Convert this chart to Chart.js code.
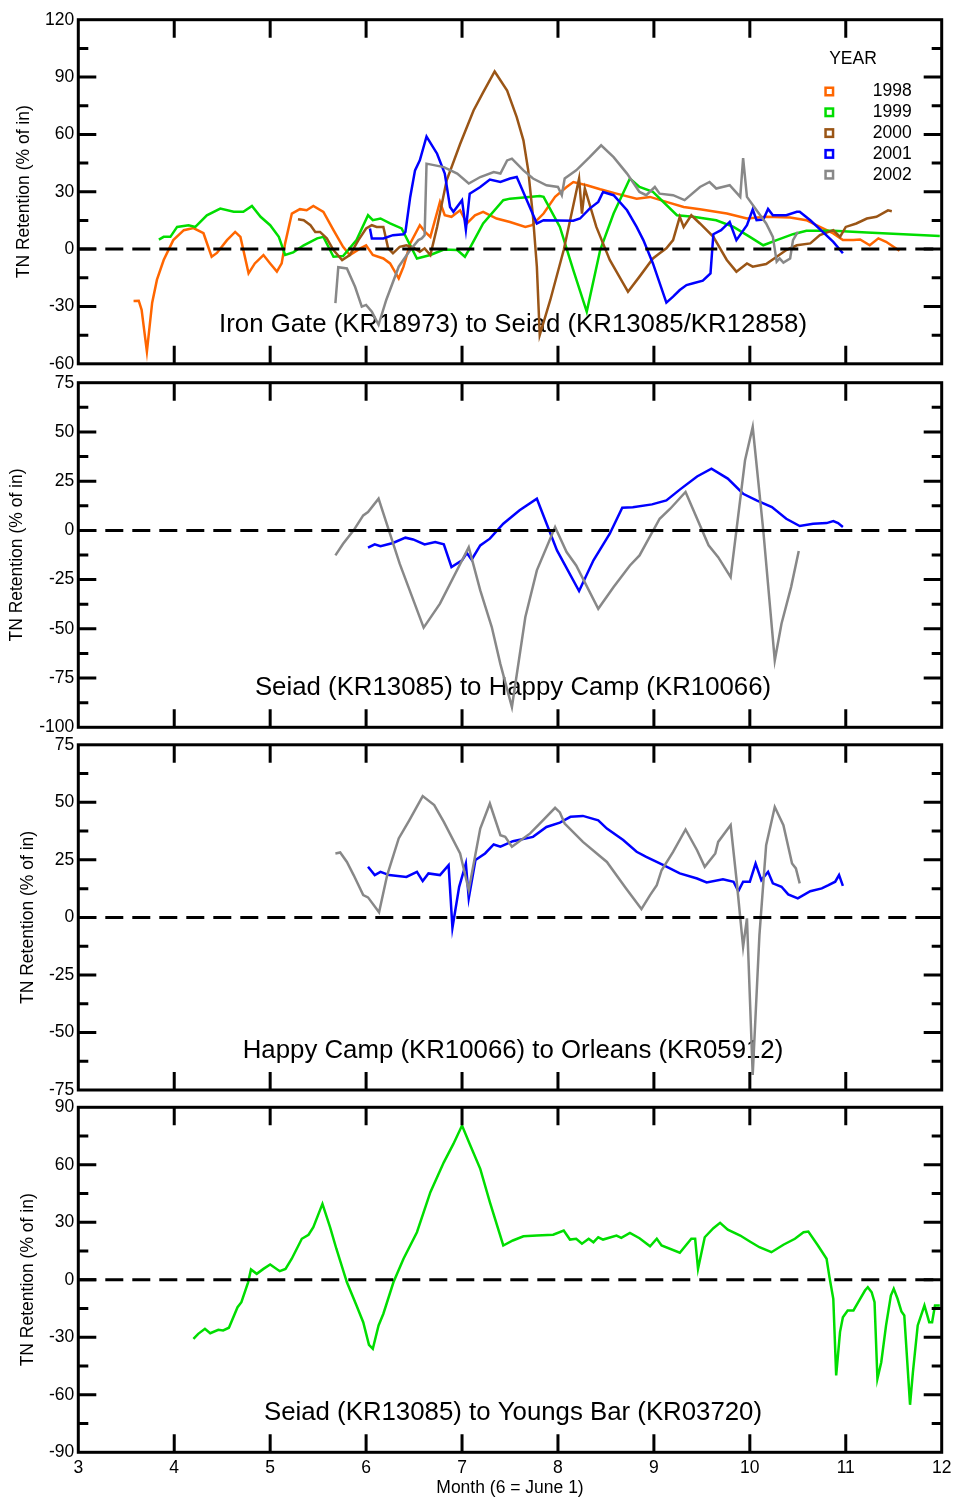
<!DOCTYPE html>
<html>
<head>
<meta charset="utf-8">
<title>TN Retention</title>
<script src="https://cdn.jsdelivr.net/npm/chart.js@4.4.1/dist/chart.umd.min.js"></script>
<style>
  html, body { margin: 0; padding: 0; background: #fff; }
  #wrap { position: relative; width: 953px; height: 1501px; }
  #wrap canvas { position: absolute; left: 0; top: 0; }
</style>
</head>
<body>
<div id="wrap">
  <canvas id="p1" width="953" height="1501"></canvas>
  <canvas id="p2" width="953" height="1501"></canvas>
  <canvas id="p3" width="953" height="1501"></canvas>
  <canvas id="p4" width="953" height="1501"></canvas>
</div>
<script>
// x is month of year (6 = June 1), y is TN retention in % of inflow

// Iron Gate (KR18973) to Seiad (KR13085/KR12858)
const igs1998Month = [3.576,3.63,3.66,3.715,3.77,3.82,3.89,3.99,4.10,4.20,4.305,4.39,4.445,4.55,4.635,4.69,4.775,4.84,4.93,5.0,5.07,5.12,5.156,5.226,5.31,5.38,5.45,5.555,5.66,5.76,5.83,5.94,6.0,6.07,6.18,6.25,6.34,6.39,6.46,6.56,6.615,6.67,6.77,6.82,6.89,6.98,7.05,7.135,7.22,7.36,7.5,7.66,7.73,7.85,7.97,8.09,8.16,8.30,8.44,8.61,8.82,8.96,9.13,9.31,9.48,9.76,9.97,10.17,10.42,10.59,10.73,10.87,10.97,11.08,11.15,11.25,11.34,11.42,11.56];
const igs1998Ret = [-27.1,-27,-31.8,-53.6,-28,-16,-5.7,4.7,9.9,11,8.3,-4,-2,4.7,9,6.4,-12.7,-7.5,-3.1,-7.5,-11.8,-7.5,3,18.6,20.9,20.3,22.6,19.5,9.9,1.2,-3.1,0.4,2,-3.1,-4.9,-7.5,-15.3,-9.2,3,12.5,9,6.4,24.7,17.7,16.9,20.3,13.4,17.7,19.5,16,14.2,11.6,12.5,18.6,27.3,32.5,35.1,33.4,31.3,29,26.4,27.3,24.7,22,20.9,18.6,16,16.9,16.5,15.1,11.6,8.2,4.7,4.7,5,2,5.6,3.8,-0.9];

const igs1999Month = [3.84,3.89,3.96,4.03,4.15,4.22,4.34,4.48,4.62,4.72,4.81,4.90,5.0,5.09,5.156,5.24,5.35,5.49,5.555,5.66,5.76,5.90,6.02,6.07,6.15,6.25,6.37,6.53,6.67,6.81,6.95,7.03,7.08,7.22,7.43,7.5,7.81,7.85,8.02,8.16,8.30,8.44,8.58,8.75,8.85,8.99,9.24,9.41,9.65,9.83,10.0,10.14,10.28,10.45,10.59,10.87,11.22,11.98];
const igs1999Ret = [5,6.4,6.4,11.6,12.5,11.6,17.7,21.2,19.5,19.5,22.6,16.9,12.5,6.4,-3.1,-1.7,2,5.6,6.4,-4,-3.6,4.7,17.7,15.1,16,13.4,10.8,-4.9,-3.1,-0.2,-0.5,-4,0.4,13.4,25.6,26.4,27.8,27.3,11.6,-11,-32.7,-0.5,18.6,36.9,32.5,29.9,17.7,16.9,15.1,11.6,6.4,2,4.7,7.8,9.6,9.6,8.7,6.9];

const igs2000Month = [5.29,5.35,5.42,5.47,5.52,5.59,5.66,5.75,5.83,5.92,6.0,6.06,6.11,6.18,6.23,6.28,6.35,6.42,6.49,6.56,6.61,6.67,6.74,6.84,6.98,7.12,7.22,7.34,7.47,7.57,7.64,7.69,7.74,7.78,7.81,7.92,8.06,8.22,8.25,8.28,8.40,8.54,8.68,8.73,8.85,8.99,9.06,9.13,9.20,9.27,9.31,9.39,9.48,9.62,9.76,9.86,9.97,10.03,10.17,10.28,10.38,10.49,10.63,10.73,10.87,10.94,11.0,11.11,11.22,11.32,11.44,11.48];
const igs2000Ret = [15.6,15.1,12.5,9,9,5.6,-0.5,-5.7,-3.1,4.7,10.8,12.5,11.6,11.6,0.4,-2.2,1.2,2,0.9,-1.4,0.4,-3.1,11.6,36,55,72.5,82,92.9,82.9,69,56.9,41.2,16.9,-9.2,-45,-26.6,-0.5,36.9,18.6,31.7,11.6,-5.7,-17.9,-22.3,-14.4,-4.9,-2.2,0.4,4.7,16.9,11.6,17.7,13.4,6.4,-5.7,-11.8,-7.5,-9.2,-7.8,-4,-0.5,2,3,7.3,9.9,6.4,11.6,13.4,16,16.9,20.3,19.8];

const igs2001Month = [6.04,6.06,6.18,6.28,6.39,6.41,6.46,6.51,6.56,6.63,6.74,6.82,6.875,6.91,7.0,7.04,7.08,7.19,7.29,7.40,7.5,7.57,7.60,7.78,7.85,8.16,8.23,8.33,8.42,8.47,8.58,8.72,8.82,8.89,8.99,9.13,9.20,9.27,9.34,9.41,9.51,9.59,9.62,9.70,9.79,9.86,9.97,10.03,10.07,10.14,10.19,10.24,10.38,10.49,10.52,10.63,10.76,10.87,10.97];
const igs2001Ret = [10.8,5.6,5.6,7.3,7.8,9,27.3,41.2,46.4,58.9,49.9,39.5,22,19.5,25.6,10.2,29,32.5,36.4,35.1,36.9,37.7,34.3,13.4,15.1,14.8,16,21.2,24.7,29.9,28.2,20.3,11.6,4.7,-7.5,-28,-24.9,-21.4,-18.8,-17.9,-16.5,-12.7,7.8,9.9,14.2,4.7,12.5,20.7,15.1,15.5,21,17.7,17.7,19.5,19.5,15.1,9,3.8,-2.2];

const igs2002Month = [5.68,5.71,5.80,5.885,5.955,6.0,6.06,6.13,6.21,6.34,6.46,6.545,6.58,6.61,6.63,6.81,6.95,7.07,7.19,7.33,7.40,7.47,7.52,7.64,7.74,7.88,8.0,8.04,8.07,8.19,8.33,8.45,8.58,8.72,8.85,8.92,9.01,9.06,9.20,9.32,9.48,9.58,9.65,9.79,9.90,9.93,9.97,10.07,10.17,10.24,10.28,10.31,10.35,10.42,10.45,10.50];
const igs2002Ret = [-28.3,-9.5,-10.1,-19.7,-30.1,-29.2,-32.7,-39.6,-26.6,-9.2,-0.5,4.7,5.6,7.3,44.7,42.9,39.5,34.3,37.7,40.3,39.5,46.4,47.3,41.2,36.9,33.4,32.5,28.2,36.9,41.2,48.1,54.3,48.1,39.5,29.9,28.2,32.5,29,28.2,25.6,32.5,35.1,31.7,33.4,27.3,47.6,27.3,20.3,13.4,6.4,-6.6,-4.9,-7.1,-4.9,4.7,9];

// Seiad (KR13085) to Happy Camp (KR10066)
const shc2001Month = [6.02,6.09,6.15,6.28,6.41,6.49,6.61,6.72,6.81,6.89,7.0,7.05,7.10,7.19,7.29,7.43,7.60,7.78,7.99,8.22,8.37,8.54,8.67,8.78,8.98,9.13,9.27,9.45,9.60,9.77,9.93,10.07,10.23,10.38,10.52,10.66,10.80,10.87,10.92,10.97];
const shc2001Ret = [-8.8,-7.1,-8,-6.4,-3.7,-4.6,-7.1,-5.9,-7.1,-18.6,-15.2,-11.5,-14.9,-7.6,-4.2,3.4,10.2,16.1,-10.2,-30.8,-15.2,-1.7,11.5,11.8,13.2,15.2,20.7,27.4,31.3,26.3,18.6,15.2,11.8,5.9,2.2,3.4,3.7,4.7,3.7,1.7];

const shc2002Month = [5.68,5.76,5.87,5.97,6.02,6.13,6.35,6.60,6.77,7.07,7.19,7.31,7.40,7.52,7.66,7.78,7.97,8.09,8.19,8.42,8.58,8.75,8.85,9.06,9.17,9.33,9.57,9.67,9.80,9.95,10.03,10.14,10.26,10.33,10.43,10.51];
const shc2002Ret = [-12.7,-6.8,0,7.6,9.3,16.1,-16.9,-49.4,-37.2,-8.5,-30.5,-49.1,-67.9,-89.7,-44,-20.3,1.7,-11,-17.8,-39.8,-28.8,-17.8,-12.7,5.9,11,19.5,-7.6,-13.6,-23.7,35.6,52.5,0,-66,-47.4,-28.8,-10.5];

// Happy Camp (KR10066) to Orleans (KR05912)
const hco2001Month = [6.02,6.09,6.15,6.24,6.42,6.53,6.59,6.65,6.77,6.86,6.90,6.97,7.04,7.07,7.14,7.24,7.33,7.40,7.53,7.74,7.88,8.02,8.13,8.26,8.42,8.51,8.68,8.82,8.92,9.10,9.27,9.45,9.55,9.72,9.83,9.88,9.93,10.0,10.06,10.12,10.19,10.24,10.33,10.40,10.50,10.63,10.75,10.82,10.89,10.93,10.97];
const hco2001Ret = [22,18.4,19.8,18.4,17.6,19.8,15.8,19.1,18.4,22.7,-4.5,13.3,23.4,8.3,24.9,27.8,31.7,30.7,33.1,35,39.3,41.2,43.7,44.1,42.2,38.6,33.6,28.5,26.3,22.7,19.1,16.9,15.2,16.6,15.5,11.4,15.5,15.5,23.4,16.2,19.8,14.8,13.3,10,8.3,11.4,12.6,14,15.5,18.4,13.7];

const hco2002Month = [5.68,5.73,5.80,5.87,5.97,6.02,6.135,6.22,6.34,6.45,6.59,6.71,6.81,6.98,7.07,7.19,7.29,7.40,7.45,7.52,7.71,7.81,7.97,8.02,8.07,8.26,8.51,8.71,8.87,8.96,9.03,9.08,9.20,9.33,9.45,9.53,9.64,9.67,9.80,9.86,9.93,9.97,10.03,10.10,10.17,10.26,10.35,10.44,10.48,10.52];
const hco2002Ret = [27.8,28.2,24.1,18.4,9.7,8.7,2.2,18.4,34.3,42.2,52.7,48.8,41.5,27.8,11.9,38.6,49.5,35.7,35,30.7,36.5,40.8,47.6,45.6,40.8,32.8,24.1,12.6,3.6,9.7,14,20.5,28.5,38.2,29.2,22,27.8,32.8,40.1,16.9,-12.8,-0.4,-68.5,-7.7,31.4,48,40.1,23.4,21.3,14.8];

// Seiad (KR13085) to Youngs Bar (KR03720)
const syb1999Month = [4.20,4.25,4.32,4.375,4.46,4.51,4.57,4.66,4.70,4.77,4.80,4.86,4.93,5.0,5.10,5.16,5.225,5.33,5.40,5.45,5.545,5.625,5.69,5.80,5.90,5.97,6.03,6.07,6.13,6.18,6.285,6.39,6.53,6.67,6.81,6.91,7.0,7.08,7.19,7.29,7.43,7.53,7.64,7.78,7.95,8.06,8.125,8.19,8.25,8.32,8.37,8.42,8.47,8.61,8.66,8.75,8.85,8.96,9.03,9.08,9.27,9.39,9.43,9.46,9.53,9.62,9.69,9.77,9.90,10.0,10.10,10.225,10.35,10.47,10.56,10.61,10.71,10.80,10.83,10.87,10.90,10.94,10.97,11.02,11.08,11.13,11.20,11.23,11.27,11.30,11.33,11.37,11.42,11.47,11.50,11.54,11.58,11.61,11.67,11.70,11.75,11.82,11.87,11.90,11.93,11.98];
const syb1999Ret = [-30.8,-28.2,-25.6,-27.9,-26.1,-26.4,-25,-14.3,-11.7,-1.3,5.4,3.1,5.7,8,4.5,5.7,11,21.4,23.5,27.4,39.6,27.4,16.2,-1.3,-13.4,-22.1,-33.9,-36,-23.8,-17.7,-1.3,11,24.8,45.7,61.3,70.9,80.5,70.9,57.9,40.5,17.9,20.5,22.7,23.1,23.5,25.7,21,21.4,18.8,21.4,19.6,22.2,21,23.1,21.9,24.5,21.7,17.5,21.4,17.9,14.1,21.4,21.4,5.7,22.2,26.9,29.7,26.2,23.1,20,17,14.4,18.3,21.4,24.8,25.2,17.9,11,1.4,-9.9,-49.9,-27.3,-19.5,-16,-16,-11.7,-5.6,-3.9,-6.5,-11.7,-51.6,-43,-23.8,-8.2,-4.7,-9.9,-16.5,-18.6,-65.2,-48.2,-23.8,-13.4,-22.1,-22.1,-13.4,-13.4];

// axis ranges: [min, max, label step]
const monthRange = [3, 12];
const igsRange = [-60, 120, 30];
const shcRange = [-100, 75, 25];
const hcoRange = [-75, 75, 25];
const sybRange = [-90, 90, 30];

const yearColors = { 1998: '#ff6600', 1999: '#00dd00', 2000: '#9a5516', 2001: '#0000ff', 2002: '#888888' };

const FONT = "'Liberation Sans', Arial, Helvetica, sans-serif";
const W = 953, H = 1501;
const PLOT_LEFT = 78.3, PLOT_RIGHT = 941.7;

Chart.defaults.font.family = FONT;
Chart.defaults.color = '#000';

function pts(xs, ys) {
  return xs.map((x, i) => ({ x: x, y: ys[i] }));
}

// box round the plot with inward tick marks on all four sides
const frameTicks = {
  id: 'frameTicks',
  afterDatasetsDraw(chart, args, opts) {
    const { ctx, chartArea: a, scales: { x, y } } = chart;
    ctx.save();
    ctx.strokeStyle = '#000';
    ctx.lineWidth = 3;
    ctx.beginPath();
    for (let m = x.min + 1; m < x.max; m++) {
      const px = x.getPixelForValue(m);
      ctx.moveTo(px, a.top); ctx.lineTo(px, a.top + 18);
      ctx.moveTo(px, a.bottom); ctx.lineTo(px, a.bottom - 18);
    }
    const half = opts.step / 2;
    const n = Math.round((y.max - y.min) / half);
    for (let k = 1; k < n; k++) {
      const py = y.getPixelForValue(y.min + k * half);
      const len = k % 2 === 0 ? 18 : 10;
      ctx.moveTo(a.left, py); ctx.lineTo(a.left + len, py);
      ctx.moveTo(a.right, py); ctx.lineTo(a.right - len, py);
    }
    ctx.stroke();
    ctx.strokeRect(a.left, a.top, a.right - a.left, a.bottom - a.top);
    ctx.restore();
  }
};

// reach name written inside the lower part of each panel
const caption = {
  id: 'caption',
  beforeDatasetsDraw(chart, args, opts) {
    const { ctx, chartArea: a } = chart;
    ctx.save();
    ctx.font = '25.8px ' + FONT;
    ctx.fillStyle = '#000';
    ctx.textAlign = 'center';
    ctx.textBaseline = 'middle';
    ctx.fillText(opts.text, (a.left + a.right) / 2 + 3, a.bottom - 39);
    ctx.restore();
  }
};

// YEAR key with hollow squares, top panel only
const yearKey = {
  id: 'yearKey',
  afterDraw(chart, args, opts) {
    if (!opts.show) return;
    const { ctx, chartArea: a } = chart;
    ctx.save();
    ctx.font = '17.5px ' + FONT;
    ctx.fillStyle = '#000';
    ctx.textBaseline = 'middle';
    ctx.textAlign = 'center';
    ctx.fillText('YEAR', a.right - 88.7, a.top + 39.5);
    const entries = chart.data.datasets.filter(d => d.label);
    entries.forEach((d, i) => {
      const cy = a.top + 71.8 + i * 20.8;
      ctx.strokeStyle = d.borderColor;
      ctx.lineWidth = 2.5;
      ctx.strokeRect(a.right - 112.4 - 3.75, cy - 3.75, 7.5, 7.5);
      ctx.fillStyle = '#000';
      ctx.textAlign = 'right';
      ctx.fillText(d.label, a.right - 30, cy);
    });
    ctx.restore();
  }
};

function buildPanel(id, cfg) {
  const withMonths = !!cfg.monthAxis;
  const datasets = cfg.series.map(s => ({
    label: String(s.year),
    data: pts(s.month, s.ret),
    borderColor: yearColors[s.year],
    borderWidth: 2.5,
    order: 2003 - s.year
  }));
  datasets.push({
    label: '',
    data: [{ x: monthRange[0], y: 0 }, { x: monthRange[1], y: 0 }],
    borderColor: '#000',
    borderWidth: 3,
    borderDash: [18, 9],
    order: 0
  });

  return new Chart(document.getElementById(id), {
    type: 'line',
    data: { datasets },
    options: {
      responsive: false,
      animation: false,
      devicePixelRatio: 1,
      layout: {
        padding: { top: cfg.top, bottom: withMonths ? 0 : H - cfg.bottom, left: 0, right: W - PLOT_RIGHT }
      },
      elements: { point: { radius: 0 }, line: { tension: 0, fill: false } },
      scales: {
        x: {
          type: 'linear',
          min: monthRange[0],
          max: monthRange[1],
          display: withMonths,
          grid: { display: false, drawTicks: false },
          border: { display: false },
          ticks: { stepSize: 1, font: { size: 17.5 }, padding: 5, maxRotation: 0 },
          title: { display: withMonths, text: 'Month (6 = June 1)', font: { size: 17.5 }, padding: { top: 0, bottom: 2 } },
          afterFit(s) {
            s.paddingLeft = 0;
            s.paddingRight = 0;
            if (withMonths) s.height = H - cfg.bottom;
          }
        },
        y: {
          min: cfg.range[0],
          max: cfg.range[1],
          grid: { display: false, drawTicks: false },
          border: { display: false },
          ticks: { stepSize: cfg.range[2], font: { size: 17.5 }, padding: 4 },
          title: { display: true, text: 'TN Retention (% of in)', font: { size: 17.5 }, padding: { top: cfg.titlePad, bottom: 0 } },
          afterFit(s) { s.width = PLOT_LEFT; }
        }
      },
      plugins: {
        legend: { display: false },
        tooltip: { enabled: false },
        frameTicks: { step: cfg.range[2] },
        caption: { text: cfg.caption },
        yearKey: { show: !!cfg.key }
      }
    },
    plugins: [frameTicks, caption, yearKey]
  });
}

buildPanel('p1', {
  top: 19.7, bottom: 363.8, range: igsRange, titlePad: 13.5, key: true,
  caption: 'Iron Gate (KR18973) to Seiad (KR13085/KR12858)',
  series: [
    { year: 1998, month: igs1998Month, ret: igs1998Ret },
    { year: 1999, month: igs1999Month, ret: igs1999Ret },
    { year: 2000, month: igs2000Month, ret: igs2000Ret },
    { year: 2001, month: igs2001Month, ret: igs2001Ret },
    { year: 2002, month: igs2002Month, ret: igs2002Ret }
  ]
});

buildPanel('p2', {
  top: 382.7, bottom: 727.3, range: shcRange, titlePad: 7,
  caption: 'Seiad (KR13085) to Happy Camp (KR10066)',
  series: [
    { year: 2001, month: shc2001Month, ret: shc2001Ret },
    { year: 2002, month: shc2002Month, ret: shc2002Ret }
  ]
});

buildPanel('p3', {
  top: 744.8, bottom: 1090, range: hcoRange, titlePad: 17.5,
  caption: 'Happy Camp (KR10066) to Orleans (KR05912)',
  series: [
    { year: 2001, month: hco2001Month, ret: hco2001Ret },
    { year: 2002, month: hco2002Month, ret: hco2002Ret }
  ]
});

buildPanel('p4', {
  top: 1107.3, bottom: 1452.3, range: sybRange, titlePad: 17.5, monthAxis: true,
  caption: 'Seiad (KR13085) to Youngs Bar (KR03720)',
  series: [
    { year: 1999, month: syb1999Month, ret: syb1999Ret }
  ]
});
</script>
</body>
</html>
